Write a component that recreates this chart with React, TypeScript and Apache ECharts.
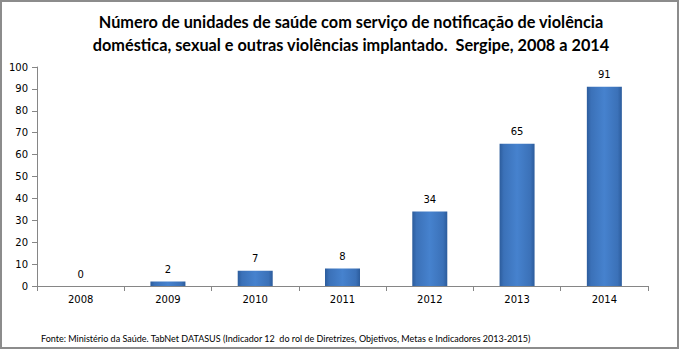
import React, { useEffect, useRef } from "react";
import * as echarts from "echarts";

const years = ["2008", "2009", "2010", "2011", "2012", "2013", "2014"];
const unidades = [0, 2, 7, 8, 34, 65, 91];
const titleLines = [
  "Número de unidades de saúde com serviço de notificação de violência",
  "doméstica, sexual e outras violências implantado.  Sergipe, 2008 a 2014",
];
const footnote =
  "Fonte: Ministério da Saúde. TabNet DATASUS (Indicador 12  do rol de Diretrizes, Objetivos, Metas e Indicadores 2013-2015)";

export default function App() {
  const ref = useRef<HTMLDivElement>(null);
  useEffect(() => {
    if (!ref.current) return;
    const chart = echarts.init(ref.current, null, { renderer: "svg" });
    const axisFont = { fontFamily: "DejaVu Sans", fontSize: 10, color: "#000" };
    chart.setOption({
      animation: false,
      backgroundColor: "#fff",
      title: {
        text: titleLines.join("\n"),
        left: 346,
        textAlign: "center",
        top: 5,
        textStyle: {
          fontFamily: "Lato",
          fontWeight: "bold",
          fontSize: 16.3,
          lineHeight: 23,
          color: "#000",
        },
      },
      grid: { left: 37, right: 32, top: 67, bottom: 65, containLabel: false },
      xAxis: {
        type: "category",
        data: years,
        axisLine: { lineStyle: { color: "#868686", width: 1 } },
        axisTick: { show: true, alignWithLabel: false, length: 5, lineStyle: { color: "#868686" } },
        axisLabel: { ...axisFont, margin: 8 },
      },
      yAxis: {
        type: "value",
        min: 0,
        max: 100,
        interval: 10,
        axisLine: { show: true, lineStyle: { color: "#868686", width: 1 } },
        axisTick: { show: true, length: 5, lineStyle: { color: "#868686" } },
        splitLine: { show: false },
        axisLabel: { ...axisFont, margin: 9 },
      },
      series: [
        {
          type: "bar",
          data: unidades,
          barWidth: 35,
          itemStyle: {
            color: new echarts.graphic.LinearGradient(0, 0, 1, 0, [
              { offset: 0, color: "#2c5c9c" },
              { offset: 0.12, color: "#3b71b8" },
              { offset: 0.5, color: "#4682ce" },
              { offset: 0.88, color: "#3b71b8" },
              { offset: 1, color: "#2c5c9c" },
            ]),
          },
          label: {
            show: true,
            position: "top",
            distance: 7,
            ...axisFont,
          },
        },
      ],
      graphic: [
        {
          type: "rect",
          shape: { x: 1, y: 1, width: 677, height: 347 },
          style: { fill: "none", stroke: "#8c8c8c", lineWidth: 2 },
          silent: true,
        },
        {
          type: "text",
          x: 41,
          y: 334,
          style: {
            text: footnote,
            fontFamily: "Lato",
            fontSize: 9,
            fill: "#000",
          },
        },
      ],
    });
    return () => chart.dispose();
  }, []);
  return (
    <div
      ref={ref}
      style={{ width: 680, height: 351, position: "absolute", left: 0, top: 0 }}
    />
  );
}
